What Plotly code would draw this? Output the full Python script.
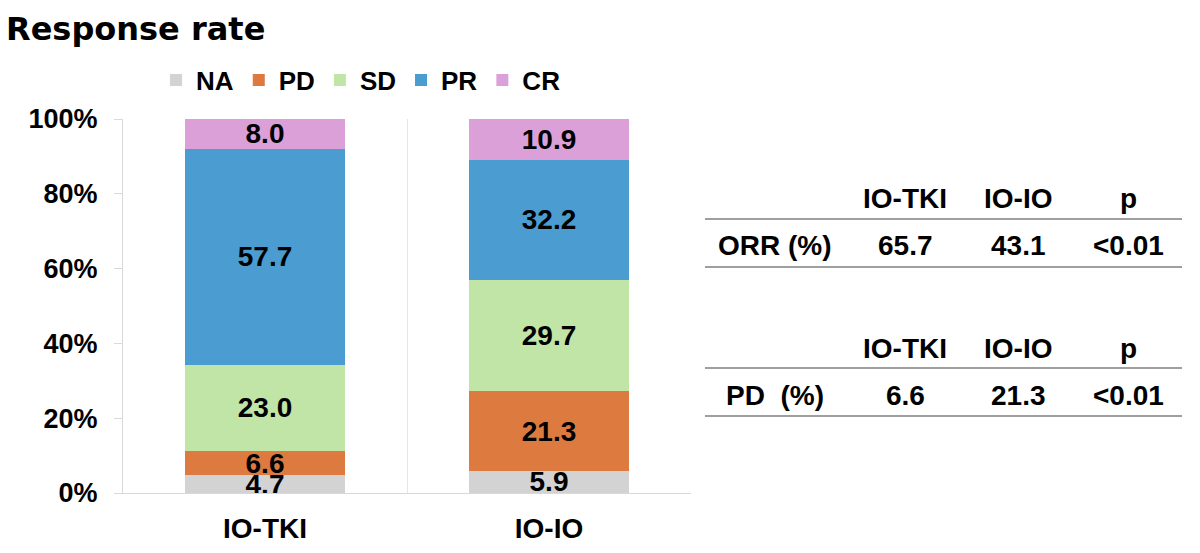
import plotly.graph_objects as go

# ---- data ----
groups = ["IO-TKI", "IO-IO"]
categories = ["NA", "PD", "SD", "PR", "CR"]
na_vals = [4.7, 5.9]
pd_vals = [6.6, 21.3]
sd_vals = [23.0, 29.7]
pr_vals = [57.7, 32.2]
cr_vals = [8.0, 10.9]
series_values = [na_vals, pd_vals, sd_vals, pr_vals, cr_vals]
colors = ["#D3D3D3", "#DD7A40", "#C1E4A7", "#4B9CD1", "#DBA0D8"]
y_tickvals = [0, 20, 40, 60, 80, 100]
y_ticktext = ["0%", "20%", "40%", "60%", "80%", "100%"]

table_header = ["IO-TKI", "IO-IO", "p"]
orr_row = ["ORR (%)", "65.7", "43.1", "<0.01"]
pd_row = ["PD\u00a0 (%)", "6.6", "21.3", "<0.01"]

FONT = "Liberation Sans"
W, H = 1200, 553
L, R, T, B = 123, 691, 119, 493  # plot area in px

fig = go.Figure()
for name, vals, col in zip(categories, series_values, colors):
    fig.add_trace(go.Bar(
        x=groups, y=vals, name=name,
        marker=dict(color=col, line=dict(width=0)),
        text=[f"{v:.1f}" for v in vals],
        textposition="inside", insidetextanchor="middle",
        constraintext="none", textangle=0, cliponaxis=False,
        textfont=dict(family=FONT, size=28, color="black", weight="bold"),
        width=0.56,
    ))

def px_x(px):
    return (px - L) / (R - L)

def px_y(py):
    return (B - py) / (B - T)

annotations = []
shapes = []
col_x = [775, 905, 1018, 1128]

def add_table(header_y, line1_y, row_y, line2_y, row):
    for cx, txt in zip(col_x[1:], table_header):
        annotations.append(dict(x=px_x(cx), y=px_y(header_y), xref="paper", yref="paper",
                                text=txt, showarrow=False, xanchor="center", yanchor="middle",
                                font=dict(family=FONT, size=28, color="black", weight="bold")))
    for cx, txt in zip(col_x, row):
        annotations.append(dict(x=px_x(cx), y=px_y(row_y), xref="paper", yref="paper",
                                text=txt, showarrow=False, xanchor="center", yanchor="middle",
                                font=dict(family=FONT, size=28, color="black", weight="bold")))
    for ly in (line1_y, line2_y):
        shapes.append(dict(type="line", xref="paper", yref="paper",
                           x0=px_x(705), x1=px_x(1182), y0=px_y(ly), y1=px_y(ly),
                           line=dict(color="#7f7f7f", width=1.5)))

add_table(198, 219, 245, 267, orr_row)
add_table(348, 368, 395, 416, pd_row)

fig.update_layout(
    width=W, height=H,
    margin=dict(l=L, r=W - R, t=T, b=H - B, pad=0, autoexpand=False),
    paper_bgcolor="white", plot_bgcolor="white",
    barmode="stack",
    title=dict(text="Response rate", x=6 / W, xanchor="left", xref="container",
               y=1 - 29 / H, yanchor="middle", yref="container", automargin=False,
               font=dict(family="DejaVu Sans", size=32, color="black", weight="bold")),
    legend=dict(orientation="h", xref="container", yref="container",
                x=156 / W, xanchor="left", y=1 - 80 / H, yanchor="middle",
                font=dict(family=FONT, size=26, color="black", weight="bold"),
                traceorder="normal", bgcolor="rgba(0,0,0,0)"),
    showlegend=True,
    xaxis=dict(type="category", showline=True, linecolor="#d9d9d9", linewidth=1,
               showgrid=True, gridcolor="#e6e6e6", gridwidth=1, tickson="boundaries",
               ticks="", ticklabelstandoff=10, automargin=False,
               tickfont=dict(family=FONT, size=28, color="black", weight="bold")),
    yaxis=dict(range=[0, 100.0001], tickvals=y_tickvals, ticktext=y_ticktext,
               showline=True, linecolor="#d9d9d9", linewidth=1,
               ticks="outside", ticklen=8, tickcolor="#d9d9d9",
               showgrid=False, zeroline=False, ticklabelstandoff=11, automargin=False,
               tickfont=dict(family=FONT, size=27, color="black", weight="bold")),
    annotations=annotations,
    shapes=shapes,
)

fig.write_html("out.html")
